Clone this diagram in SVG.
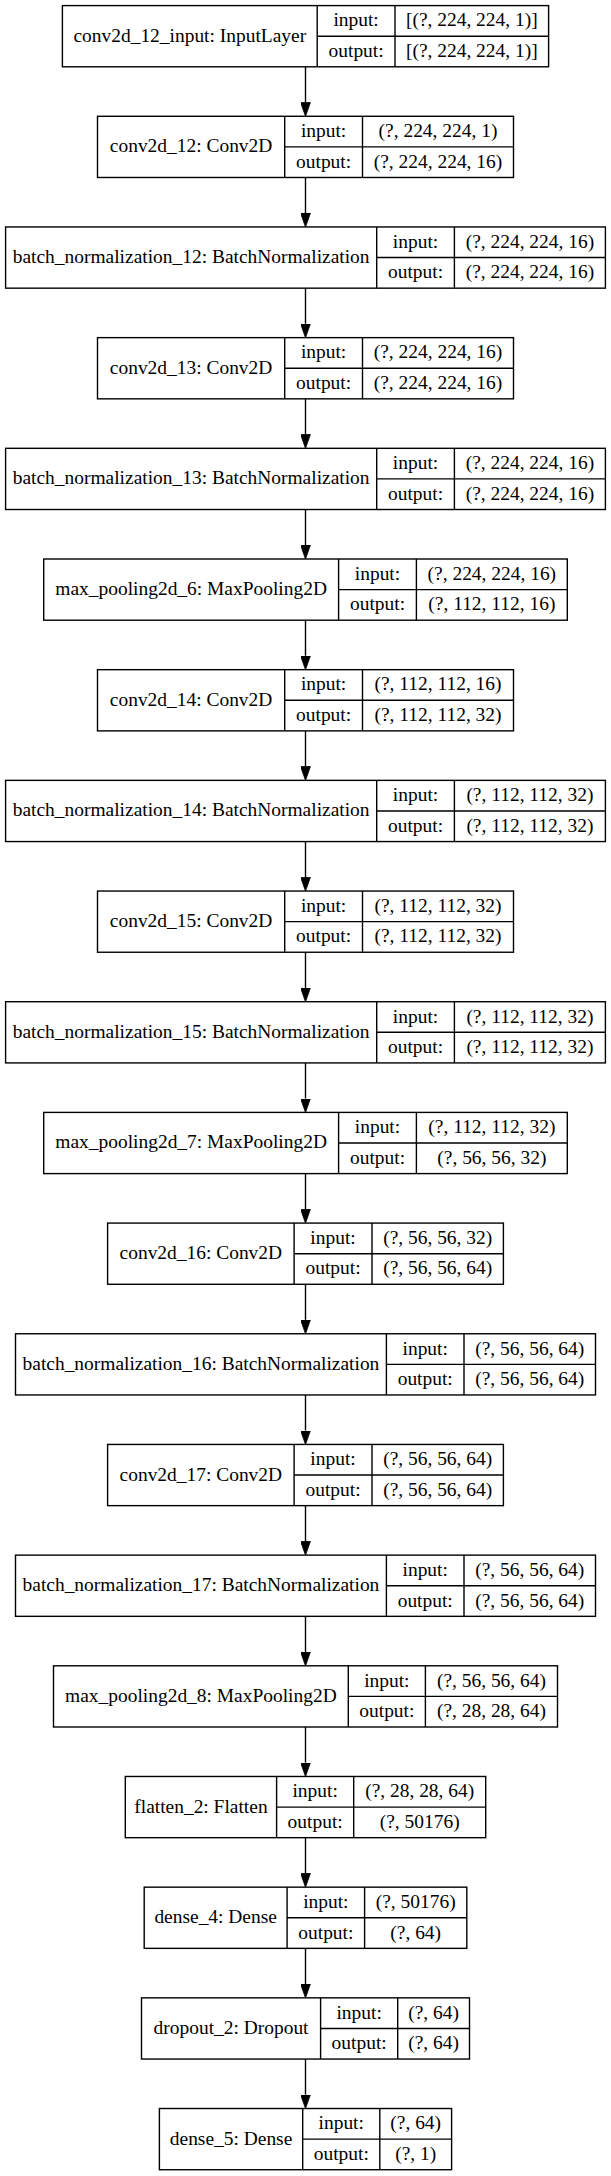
<svg xmlns="http://www.w3.org/2000/svg" width="611" height="2176" viewBox="0 0 611 2176">
<style>
.b{fill:#fff;stroke:#000;stroke-width:1.4}
.l{stroke:#000;stroke-width:1.4;fill:none}
text{font-family:"Liberation Serif","Times New Roman",serif;font-size:19.44px;text-anchor:middle;fill:#000}
.e{stroke:#000;stroke-width:1.4;fill:none;marker-end:url(#arr)}
</style>
<defs>
<marker id="arr" markerUnits="userSpaceOnUse" markerWidth="14" markerHeight="10" viewBox="0 0 13.9 9.8" refX="0" refY="4.9" orient="auto">
<path d="M0,0 L13.9,4.9 L0,9.8 z" fill="#000" stroke="#000" stroke-width="0.8"/>
</marker>
</defs>
<rect x="0" y="0" width="611" height="2176" fill="#fff"/>
<g id="connectors">
<line class="e" x1="305.5" y1="66.8" x2="305.5" y2="102.38"/>
<line class="e" x1="305.5" y1="177.48" x2="305.5" y2="213.06"/>
<line class="e" x1="305.5" y1="288.16" x2="305.5" y2="323.74"/>
<line class="e" x1="305.5" y1="398.84" x2="305.5" y2="434.42"/>
<line class="e" x1="305.5" y1="509.52" x2="305.5" y2="545.1"/>
<line class="e" x1="305.5" y1="620.2" x2="305.5" y2="655.78"/>
<line class="e" x1="305.5" y1="730.88" x2="305.5" y2="766.46"/>
<line class="e" x1="305.5" y1="841.56" x2="305.5" y2="877.14"/>
<line class="e" x1="305.5" y1="952.24" x2="305.5" y2="987.82"/>
<line class="e" x1="305.5" y1="1062.92" x2="305.5" y2="1098.5"/>
<line class="e" x1="305.5" y1="1173.6" x2="305.5" y2="1209.18"/>
<line class="e" x1="305.5" y1="1284.28" x2="305.5" y2="1319.86"/>
<line class="e" x1="305.5" y1="1394.96" x2="305.5" y2="1430.54"/>
<line class="e" x1="305.5" y1="1505.64" x2="305.5" y2="1541.22"/>
<line class="e" x1="305.5" y1="1616.32" x2="305.5" y2="1651.9"/>
<line class="e" x1="305.5" y1="1727.0" x2="305.5" y2="1762.58"/>
<line class="e" x1="305.5" y1="1837.68" x2="305.5" y2="1873.26"/>
<line class="e" x1="305.5" y1="1948.36" x2="305.5" y2="1983.94"/>
<line class="e" x1="305.5" y1="2059.04" x2="305.5" y2="2094.62"/>
</g>

<g id="conv2d_12_input" transform="translate(0,5.6)">
<rect class="b" x="62.4" y="0" width="486.2" height="61.2"/>
<path class="l" d="M317.2,0 V61.2 M395,0 V61.2 M317.2,30.6 H548.6"/>
<text x="189.8" y="36.1">conv2d_12_input: InputLayer</text>
<text x="356.1" y="20.8">input:</text><text x="471.8" y="20.8">[(?, 224, 224, 1)]</text>
<text x="356.1" y="51.4">output:</text><text x="471.8" y="51.4">[(?, 224, 224, 1)]</text>
</g>

<g id="conv2d_12" transform="translate(0,116.28)">
<rect class="b" x="97.5" y="0" width="416" height="61.2"/>
<path class="l" d="M284.7,0 V61.2 M362.5,0 V61.2 M284.7,30.6 H513.5"/>
<text x="191.1" y="36.1">conv2d_12: Conv2D</text>
<text x="323.6" y="20.8">input:</text><text x="438" y="20.8">(?, 224, 224, 1)</text>
<text x="323.6" y="51.4">output:</text><text x="438" y="51.4">(?, 224, 224, 16)</text>
</g>

<g id="batch_normalization_12" transform="translate(0,226.96)">
<rect class="b" x="5.6" y="0" width="599.8" height="61.2"/>
<path class="l" d="M376.7,0 V61.2 M454.4,0 V61.2 M376.7,30.6 H605.4"/>
<text x="191.15" y="36.1">batch_normalization_12: BatchNormalization</text>
<text x="415.55" y="20.8">input:</text><text x="529.9" y="20.8">(?, 224, 224, 16)</text>
<text x="415.55" y="51.4">output:</text><text x="529.9" y="51.4">(?, 224, 224, 16)</text>
</g>

<g id="conv2d_13" transform="translate(0,337.64)">
<rect class="b" x="97.5" y="0" width="416" height="61.2"/>
<path class="l" d="M284.7,0 V61.2 M362.5,0 V61.2 M284.7,30.6 H513.5"/>
<text x="191.1" y="36.1">conv2d_13: Conv2D</text>
<text x="323.6" y="20.8">input:</text><text x="438" y="20.8">(?, 224, 224, 16)</text>
<text x="323.6" y="51.4">output:</text><text x="438" y="51.4">(?, 224, 224, 16)</text>
</g>

<g id="batch_normalization_13" transform="translate(0,448.32)">
<rect class="b" x="5.6" y="0" width="599.8" height="61.2"/>
<path class="l" d="M376.7,0 V61.2 M454.4,0 V61.2 M376.7,30.6 H605.4"/>
<text x="191.15" y="36.1">batch_normalization_13: BatchNormalization</text>
<text x="415.55" y="20.8">input:</text><text x="529.9" y="20.8">(?, 224, 224, 16)</text>
<text x="415.55" y="51.4">output:</text><text x="529.9" y="51.4">(?, 224, 224, 16)</text>
</g>

<g id="max_pooling2d_6" transform="translate(0,559)">
<rect class="b" x="43.7" y="0" width="523.6" height="61.2"/>
<path class="l" d="M338.6,0 V61.2 M416.4,0 V61.2 M338.6,30.6 H567.3"/>
<text x="191.15" y="36.1">max_pooling2d_6: MaxPooling2D</text>
<text x="377.5" y="20.8">input:</text><text x="491.85" y="20.8">(?, 224, 224, 16)</text>
<text x="377.5" y="51.4">output:</text><text x="491.85" y="51.4">(?, 112, 112, 16)</text>
</g>

<g id="conv2d_14" transform="translate(0,669.68)">
<rect class="b" x="97.5" y="0" width="416" height="61.2"/>
<path class="l" d="M284.7,0 V61.2 M362.5,0 V61.2 M284.7,30.6 H513.5"/>
<text x="191.1" y="36.1">conv2d_14: Conv2D</text>
<text x="323.6" y="20.8">input:</text><text x="438" y="20.8">(?, 112, 112, 16)</text>
<text x="323.6" y="51.4">output:</text><text x="438" y="51.4">(?, 112, 112, 32)</text>
</g>

<g id="batch_normalization_14" transform="translate(0,780.36)">
<rect class="b" x="5.6" y="0" width="599.8" height="61.2"/>
<path class="l" d="M376.7,0 V61.2 M454.4,0 V61.2 M376.7,30.6 H605.4"/>
<text x="191.15" y="36.1">batch_normalization_14: BatchNormalization</text>
<text x="415.55" y="20.8">input:</text><text x="529.9" y="20.8">(?, 112, 112, 32)</text>
<text x="415.55" y="51.4">output:</text><text x="529.9" y="51.4">(?, 112, 112, 32)</text>
</g>

<g id="conv2d_15" transform="translate(0,891.04)">
<rect class="b" x="97.5" y="0" width="416" height="61.2"/>
<path class="l" d="M284.7,0 V61.2 M362.5,0 V61.2 M284.7,30.6 H513.5"/>
<text x="191.1" y="36.1">conv2d_15: Conv2D</text>
<text x="323.6" y="20.8">input:</text><text x="438" y="20.8">(?, 112, 112, 32)</text>
<text x="323.6" y="51.4">output:</text><text x="438" y="51.4">(?, 112, 112, 32)</text>
</g>

<g id="batch_normalization_15" transform="translate(0,1001.72)">
<rect class="b" x="5.6" y="0" width="599.8" height="61.2"/>
<path class="l" d="M376.7,0 V61.2 M454.4,0 V61.2 M376.7,30.6 H605.4"/>
<text x="191.15" y="36.1">batch_normalization_15: BatchNormalization</text>
<text x="415.55" y="20.8">input:</text><text x="529.9" y="20.8">(?, 112, 112, 32)</text>
<text x="415.55" y="51.4">output:</text><text x="529.9" y="51.4">(?, 112, 112, 32)</text>
</g>

<g id="max_pooling2d_7" transform="translate(0,1112.4)">
<rect class="b" x="43.7" y="0" width="523.6" height="61.2"/>
<path class="l" d="M338.6,0 V61.2 M416.4,0 V61.2 M338.6,30.6 H567.3"/>
<text x="191.15" y="36.1">max_pooling2d_7: MaxPooling2D</text>
<text x="377.5" y="20.8">input:</text><text x="491.85" y="20.8">(?, 112, 112, 32)</text>
<text x="377.5" y="51.4">output:</text><text x="491.85" y="51.4">(?, 56, 56, 32)</text>
</g>

<g id="conv2d_16" transform="translate(0,1223.08)">
<rect class="b" x="107.6" y="0" width="395.8" height="61.2"/>
<path class="l" d="M294.1,0 V61.2 M372,0 V61.2 M294.1,30.6 H503.4"/>
<text x="200.85" y="36.1">conv2d_16: Conv2D</text>
<text x="333.05" y="20.8">input:</text><text x="437.7" y="20.8">(?, 56, 56, 32)</text>
<text x="333.05" y="51.4">output:</text><text x="437.7" y="51.4">(?, 56, 56, 64)</text>
</g>

<g id="batch_normalization_16" transform="translate(0,1333.76)">
<rect class="b" x="15.5" y="0" width="580" height="61.2"/>
<path class="l" d="M386.4,0 V61.2 M464,0 V61.2 M386.4,30.6 H595.5"/>
<text x="200.95" y="36.1">batch_normalization_16: BatchNormalization</text>
<text x="425.2" y="20.8">input:</text><text x="529.75" y="20.8">(?, 56, 56, 64)</text>
<text x="425.2" y="51.4">output:</text><text x="529.75" y="51.4">(?, 56, 56, 64)</text>
</g>

<g id="conv2d_17" transform="translate(0,1444.44)">
<rect class="b" x="107.6" y="0" width="395.8" height="61.2"/>
<path class="l" d="M294.1,0 V61.2 M372,0 V61.2 M294.1,30.6 H503.4"/>
<text x="200.85" y="36.1">conv2d_17: Conv2D</text>
<text x="333.05" y="20.8">input:</text><text x="437.7" y="20.8">(?, 56, 56, 64)</text>
<text x="333.05" y="51.4">output:</text><text x="437.7" y="51.4">(?, 56, 56, 64)</text>
</g>

<g id="batch_normalization_17" transform="translate(0,1555.12)">
<rect class="b" x="15.5" y="0" width="580" height="61.2"/>
<path class="l" d="M386.4,0 V61.2 M464,0 V61.2 M386.4,30.6 H595.5"/>
<text x="200.95" y="36.1">batch_normalization_17: BatchNormalization</text>
<text x="425.2" y="20.8">input:</text><text x="529.75" y="20.8">(?, 56, 56, 64)</text>
<text x="425.2" y="51.4">output:</text><text x="529.75" y="51.4">(?, 56, 56, 64)</text>
</g>

<g id="max_pooling2d_8" transform="translate(0,1665.8)">
<rect class="b" x="53.5" y="0" width="504" height="61.2"/>
<path class="l" d="M348.3,0 V61.2 M425.4,0 V61.2 M348.3,30.6 H557.5"/>
<text x="200.9" y="36.1">max_pooling2d_8: MaxPooling2D</text>
<text x="386.85" y="20.8">input:</text><text x="491.45" y="20.8">(?, 56, 56, 64)</text>
<text x="386.85" y="51.4">output:</text><text x="491.45" y="51.4">(?, 28, 28, 64)</text>
</g>

<g id="flatten_2" transform="translate(0,1776.48)">
<rect class="b" x="125.3" y="0" width="360.4" height="61.2"/>
<path class="l" d="M276.6,0 V61.2 M353.7,0 V61.2 M276.6,30.6 H485.7"/>
<text x="200.95" y="36.1">flatten_2: Flatten</text>
<text x="315.15" y="20.8">input:</text><text x="419.7" y="20.8">(?, 28, 28, 64)</text>
<text x="315.15" y="51.4">output:</text><text x="419.7" y="51.4">(?, 50176)</text>
</g>

<g id="dense_4" transform="translate(0,1887.16)">
<rect class="b" x="144.2" y="0" width="322.6" height="61.2"/>
<path class="l" d="M287.1,0 V61.2 M364.6,0 V61.2 M287.1,30.6 H466.8"/>
<text x="215.65" y="36.1">dense_4: Dense</text>
<text x="325.85" y="20.8">input:</text><text x="415.7" y="20.8">(?, 50176)</text>
<text x="325.85" y="51.4">output:</text><text x="415.7" y="51.4">(?, 64)</text>
</g>

<g id="dropout_2" transform="translate(0,1997.84)">
<rect class="b" x="141.5" y="0" width="328" height="61.2"/>
<path class="l" d="M320.6,0 V61.2 M397.7,0 V61.2 M320.6,30.6 H469.5"/>
<text x="231.05" y="36.1">dropout_2: Dropout</text>
<text x="359.15" y="20.8">input:</text><text x="433.6" y="20.8">(?, 64)</text>
<text x="359.15" y="51.4">output:</text><text x="433.6" y="51.4">(?, 64)</text>
</g>

<g id="dense_5" transform="translate(0,2108.52)">
<rect class="b" x="159.4" y="0" width="292.2" height="61.2"/>
<path class="l" d="M302.7,0 V61.2 M379.8,0 V61.2 M302.7,30.6 H451.6"/>
<text x="231.05" y="36.1">dense_5: Dense</text>
<text x="341.25" y="20.8">input:</text><text x="415.7" y="20.8">(?, 64)</text>
<text x="341.25" y="51.4">output:</text><text x="415.7" y="51.4">(?, 1)</text>
</g>
</svg>
